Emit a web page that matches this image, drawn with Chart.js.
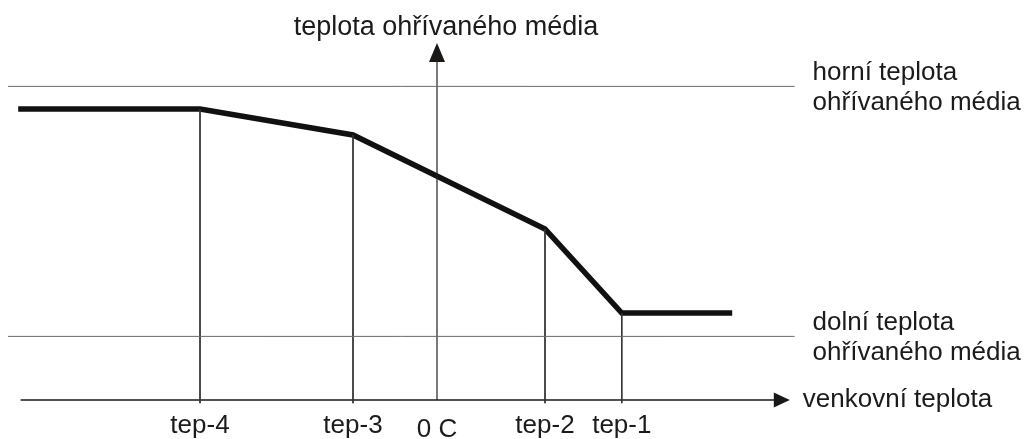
<!DOCTYPE html>
<html>
<head>
<meta charset="utf-8">
<script src="https://cdn.jsdelivr.net/npm/chart.js@4/dist/chart.umd.min.js"></script>
<style>
  html, body { margin: 0; padding: 0; background: #fff; }
  #wrap { width: 1029px; height: 439px; }
</style>
</head>
<body>
<div id="wrap"><canvas id="curve" width="1029" height="439"></canvas></div>
<script>
// outside temperature (x) and heated medium temperature (y), abstract units
const tepLabels = ['tep-4', 'tep-3', 'tep-2', 'tep-1'];
const tepValues = [-19.75, -7, 9, 15.4];
const curveX = [-34.9, -19.75, -7, 9, 15.4, 24.6];
const curveY = [72.75, 72.75, 66.25, 42.75, 21.75, 21.75];
const upperLimit = 78.4;
const lowerLimit = 15.9;
const limitSpan = [-35.75, 29.8];
const axisSpanX = [-34.7, 29.4];
const axisTopY = 89.25;

const zeroLabel = '0 C';
const yTitle = 'teplota ohřívaného média';
const xTitle = 'venkovní teplota';
const upperText = ['horní teplota', 'ohřívaného média'];
const lowerText = ['dolní teplota', 'ohřívaného média'];

const textColor = '#1c1a1a';
const font = '26px "Liberation Sans", Arial, sans-serif';
const titleFont = '27px "Liberation Sans", Arial, sans-serif';

const curvePoints = curveX.map((x, i) => ({ x: x, y: curveY[i] }));

const dropPoints = [];
tepValues.forEach((t, i) => {
    dropPoints.push({ x: t, y: curveY[i + 1] });
    dropPoints.push({ x: t, y: -0.8 });
    dropPoints.push({ x: t, y: null });
});

function hLine(y, x0, x1) {
    return [{ x: x0, y: y }, { x: x1, y: y }];
}

// axes arrows + text labels
const diagramText = {
    id: 'diagramText',
    afterDatasetsDraw(chart) {
        const ctx = chart.ctx;
        const xs = chart.scales.x;
        const ys = chart.scales.y;
        const x0 = xs.getPixelForValue(0);
        const y0 = ys.getPixelForValue(0);
        ctx.save();
        ctx.fillStyle = '#1a1717';

        // x arrow
        const ax = xs.getPixelForValue(axisSpanX[1]);
        ctx.beginPath();
        ctx.moveTo(ax, y0);
        ctx.lineTo(ax - 16, y0 - 7.5);
        ctx.lineTo(ax - 16, y0 + 7.5);
        ctx.closePath();
        ctx.fill();

        // y arrow
        const ay = ys.getPixelForValue(axisTopY);
        ctx.beginPath();
        ctx.moveTo(x0, ay);
        ctx.lineTo(x0 - 8, ay + 19);
        ctx.lineTo(x0 + 8, ay + 19);
        ctx.closePath();
        ctx.fill();

        ctx.fillStyle = textColor;
        ctx.textBaseline = 'alphabetic';

        ctx.textAlign = 'center';
        ctx.font = titleFont;
        ctx.fillText(yTitle, x0 + 9, ay - 8);
        ctx.font = font;
        tepValues.forEach((t, i) => {
            ctx.fillText(tepLabels[i], xs.getPixelForValue(t), y0 + 33);
        });
        ctx.fillText(zeroLabel, x0, y0 + 37);

        ctx.textAlign = 'left';
        const lx = xs.getPixelForValue(limitSpan[1]) + 18;
        ctx.fillText(xTitle, ax + 13, y0 + 7);
        const uy = ys.getPixelForValue(upperLimit);
        ctx.fillText(upperText[0], lx, uy - 6);
        ctx.fillText(upperText[1], lx, uy + 24);
        const ly = ys.getPixelForValue(lowerLimit);
        ctx.fillText(lowerText[0], lx, ly - 6);
        ctx.fillText(lowerText[1], lx, ly + 24);
        ctx.restore();
    }
};

new Chart(document.getElementById('curve'), {
    type: 'line',
    data: {
        datasets: [
            {
                label: 'horní',
                data: hLine(upperLimit, limitSpan[0], limitSpan[1]),
                borderColor: '#6a6a6a',
                borderWidth: 1
            },
            {
                label: 'dolní',
                data: hLine(lowerLimit, limitSpan[0], limitSpan[1]),
                borderColor: '#6a6a6a',
                borderWidth: 1
            },
            {
                label: 'tep',
                data: dropPoints,
                borderColor: '#333333',
                borderWidth: 1,
                spanGaps: false
            },
            {
                label: 'osa x',
                data: hLine(0, axisSpanX[0], axisSpanX[1] - 1),
                borderColor: '#1a1717',
                borderWidth: 1.5
            },
            {
                label: 'osa y',
                data: [{ x: 0, y: 0 }, { x: 0, y: axisTopY - 4 }],
                borderColor: '#222020',
                borderWidth: 1.2
            },
            {
                label: 'křivka',
                data: curvePoints,
                borderColor: '#111111',
                borderWidth: 5.5,
                borderCapStyle: 'butt',
                borderJoinStyle: 'miter'
            }
        ]
    },
    options: {
        responsive: false,
        animation: false,
        devicePixelRatio: 1,
        layout: { padding: 0 },
        elements: {
            point: { radius: 0, hoverRadius: 0 },
            line: { tension: 0, fill: false }
        },
        plugins: {
            legend: { display: false },
            tooltip: { enabled: false }
        },
        scales: {
            x: { type: 'linear', min: -437 / 12, max: 592 / 12, display: false },
            y: { type: 'linear', min: -39 / 4, max: 100, display: false }
        }
    },
    plugins: [diagramText]
});
</script>
</body>
</html>
